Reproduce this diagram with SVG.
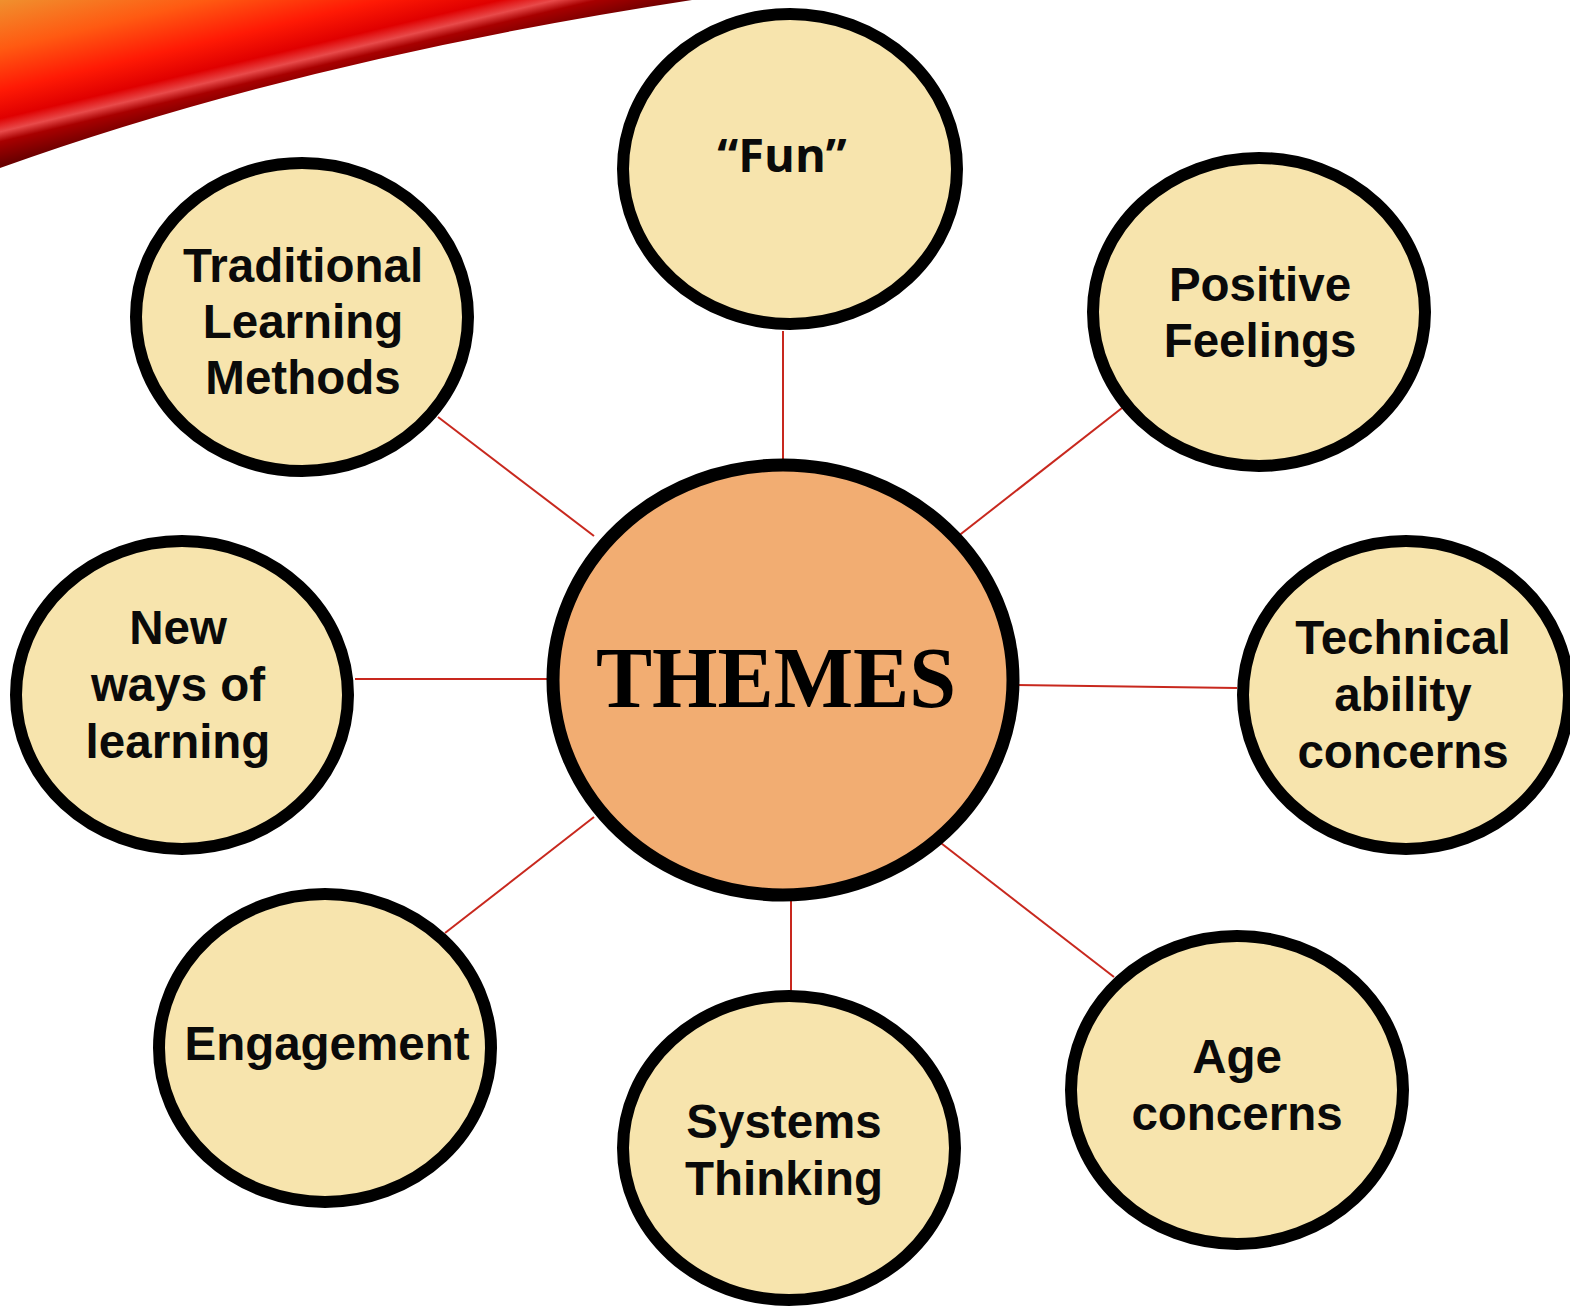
<svg xmlns="http://www.w3.org/2000/svg" width="1570" height="1311" viewBox="0 0 1570 1311">
  <defs>
    <linearGradient id="swoosh" gradientUnits="userSpaceOnUse" x1="0" y1="0" x2="37" y2="156">
      <stop offset="0" stop-color="#f0902e"/>
      <stop offset="0.3" stop-color="#ff5a12"/>
      <stop offset="0.55" stop-color="#ff1a05"/>
      <stop offset="0.72" stop-color="#e00000"/>
      <stop offset="0.8" stop-color="#e84a4a"/>
      <stop offset="0.86" stop-color="#a80000"/>
      <stop offset="1" stop-color="#6a0000"/>
    </linearGradient>
    <style>
      .bubble { fill: #f7e4ad; stroke: #000; stroke-width: 12; }
      .hub { fill: #f2ad72; stroke: #000; stroke-width: 13; }
      .lbl { font-family: "Liberation Sans", Arial, sans-serif; font-weight: bold; font-size: 47.5px; fill: #0a0a0a; text-anchor: middle; }
      .fun { font-family: "Open Sans", "Noto Sans", sans-serif; font-weight: bold; font-size: 47px; fill: #0a0a0a; text-anchor: middle; }
      .hubtxt { font-family: "Liberation Serif", "Times New Roman", serif; font-weight: bold; font-size: 86px; fill: #000; text-anchor: middle; }
      .link { stroke: #c8281e; stroke-width: 2; fill: none; }
    </style>
  </defs>

  <rect width="1570" height="1311" fill="#fff"/>

  <!-- decorative corner swoosh -->
  <path d="M0,0 L692,0 Q300,60 0,168 Z" fill="url(#swoosh)"/>

  <!-- spokes -->
  <g id="connectors">
    <line class="link" x1="783" y1="331" x2="783" y2="465"/>
    <line class="link" x1="438" y1="417" x2="594" y2="536"/>
    <line class="link" x1="1122" y1="408" x2="957" y2="537"/>
    <line class="link" x1="355" y1="679" x2="552" y2="679"/>
    <line class="link" x1="1015" y1="685" x2="1237" y2="688"/>
    <line class="link" x1="445" y1="933" x2="594" y2="817"/>
    <line class="link" x1="791" y1="893" x2="791" y2="991"/>
    <line class="link" x1="937" y1="840" x2="1114" y2="977"/>
  </g>

  <g id="themes">
    <ellipse class="hub" cx="783" cy="680" rx="230" ry="215"/>
    <text class="hubtxt" x="776" y="707" textLength="360" lengthAdjust="spacingAndGlyphs">THEMES</text>
  </g>

  <g id="fun">
    <ellipse class="bubble" cx="790" cy="169" rx="167" ry="155"/>
    <text class="fun" x="782" y="172">“Fun”</text>
  </g>

  <g id="traditional">
    <ellipse class="bubble" cx="302" cy="317" rx="166" ry="154"/>
    <text class="lbl" x="303" y="282">Traditional</text>
    <text class="lbl" x="303" y="338">Learning</text>
    <text class="lbl" x="303" y="394">Methods</text>
  </g>

  <g id="positive">
    <ellipse class="bubble" cx="1259" cy="312" rx="166" ry="154"/>
    <text class="lbl" x="1260" y="301">Positive</text>
    <text class="lbl" x="1260" y="357">Feelings</text>
  </g>

  <g id="new-ways">
    <ellipse class="bubble" cx="182" cy="695" rx="166" ry="154"/>
    <text class="lbl" x="178" y="644">New</text>
    <text class="lbl" x="178" y="701">ways of</text>
    <text class="lbl" x="178" y="758">learning</text>
  </g>

  <g id="technical">
    <ellipse class="bubble" cx="1406" cy="695" rx="163" ry="154"/>
    <text class="lbl" x="1403" y="654">Technical</text>
    <text class="lbl" x="1403" y="711">ability</text>
    <text class="lbl" x="1403" y="768">concerns</text>
  </g>

  <g id="engagement">
    <ellipse class="bubble" cx="325" cy="1048" rx="166" ry="154"/>
    <text class="lbl" x="327" y="1060">Engagement</text>
  </g>

  <g id="systems">
    <ellipse class="bubble" cx="789" cy="1148" rx="166" ry="152"/>
    <text class="lbl" x="784" y="1138">Systems</text>
    <text class="lbl" x="784" y="1195">Thinking</text>
  </g>

  <g id="age">
    <ellipse class="bubble" cx="1237" cy="1090" rx="166" ry="154"/>
    <text class="lbl" x="1237" y="1073">Age</text>
    <text class="lbl" x="1237" y="1130">concerns</text>
  </g>
</svg>
